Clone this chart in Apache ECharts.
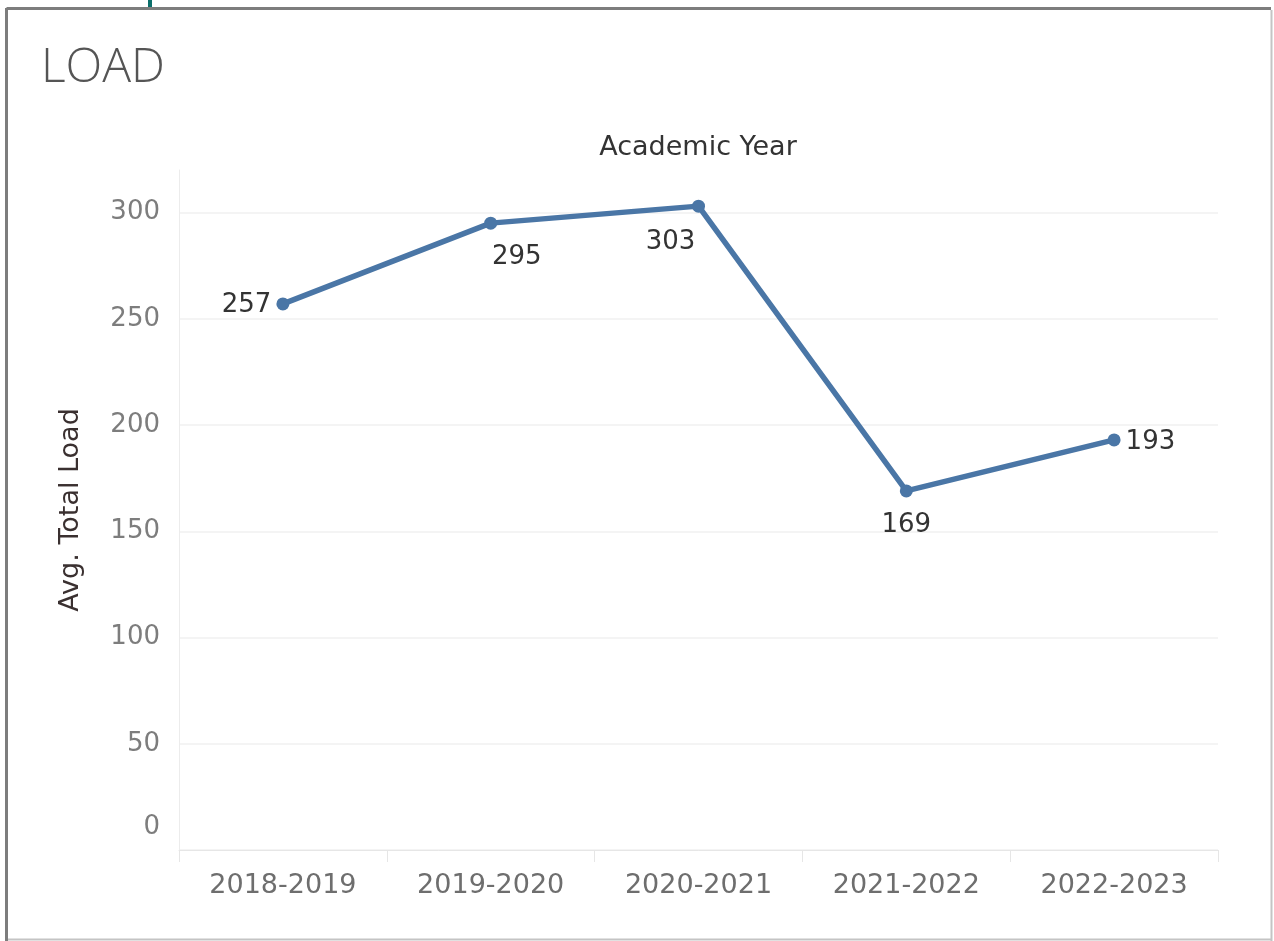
<!DOCTYPE html>
<html>
<head>
<meta charset="utf-8">
<title>LOAD</title>
<script src="https://cdn.jsdelivr.net/npm/echarts@6/dist/echarts.min.js"></script>
<style>
  html, body { margin: 0; padding: 0; background: #fff; }
  #chart { width: 1274px; height: 941px; }
</style>
</head>
<body>
<div id="chart"></div>
<script>
// Academic years along the x axis
const years = ['2018-2019', '2019-2020', '2020-2021', '2021-2022', '2022-2023'];
// Average total load per year
const avgLoad = [257, 295, 303, 169, 193];
// Where each value label sits relative to its point
const labelPlacement = [
  { position: 'left', distance: 4, offset: [-1, 1] },
  { position: 'bottom', distance: 5, offset: [26, 10] },
  { position: 'bottom', distance: 5, offset: [-28, 12] },
  { position: 'bottom', distance: 5, offset: [0, 10] },
  { position: 'right', distance: 5, offset: [0, 2] }
];
// Y axis range and step
const yMin = 0, yMax = 320, yStep = 50;

const FONT = '"DejaVu Sans", Verdana, sans-serif';
const TITLE_FONT = '"Open Sans", "Noto Sans", sans-serif';
const chart = echarts.init(document.getElementById('chart'), null, { renderer: 'canvas' });

const points = avgLoad.map((v, i) => ({
  value: v,
  label: {
    show: true,
    position: labelPlacement[i].position,
    distance: labelPlacement[i].distance,
    offset: labelPlacement[i].offset
  }
}));

// split lines cycle through colours; the last (at yMax) is hidden
const splitColors = [];
for (let v = yMin; v <= yMax; v += yStep) splitColors.push('#f0f0f0');
splitColors.push('rgba(0,0,0,0)');

chart.setOption({
  backgroundColor: '#ffffff',
  animation: false,
  grid: { left: 179, right: 56, top: 170, bottom: 91, containLabel: false },
  graphic: [
    // frame around the worksheet
    { type: 'line', shape: { x1: 6.5, y1: 8.5, x2: 1271, y2: 8.5 }, style: { stroke: '#7d7d7d', lineWidth: 3 }, silent: true },
    { type: 'line', shape: { x1: 6.5, y1: 8, x2: 6.5, y2: 941 }, style: { stroke: '#7d7d7d', lineWidth: 3 }, silent: true },
    { type: 'line', shape: { x1: 1271.5, y1: 10, x2: 1271.5, y2: 941 }, style: { stroke: '#c4c4c4', lineWidth: 2 }, silent: true },
    { type: 'line', shape: { x1: 8, y1: 939.5, x2: 1271, y2: 939.5 }, style: { stroke: '#c4c4c4', lineWidth: 2 }, silent: true },
    { type: 'rect', shape: { x: 148, y: 0, width: 4, height: 7 }, style: { fill: '#0b6e6a' }, silent: true },
    // sheet title
    { type: 'text', left: 41, top: 44, style: { text: 'LOAD', font: '300 48px ' + TITLE_FONT, fill: '#555555' }, silent: true },
    // column header
    { type: 'text', x: 698, y: 148, style: { text: 'Academic Year', font: '27px ' + FONT, fill: '#333333', align: 'center', verticalAlign: 'middle' }, silent: true }
  ],
  xAxis: {
    type: 'category',
    data: years,
    boundaryGap: true,
    axisLine: { show: true, lineStyle: { color: '#e6e6e6', width: 1 } },
    axisTick: { show: true, length: 12, lineStyle: { color: '#e6e6e6' } },
    axisLabel: { color: '#6e6e6e', fontSize: 27, fontFamily: FONT, margin: 22 },
    splitLine: { show: false }
  },
  yAxis: {
    type: 'value',
    min: yMin,
    max: yMax,
    interval: yStep,
    name: 'Avg. Total Load',
    nameLocation: 'middle',
    nameGap: 95,
    nameRotate: 90,
    nameTextStyle: { color: '#3a3030', fontSize: 27, fontFamily: FONT },
    axisLine: { show: true, lineStyle: { color: '#ececec', width: 1 } },
    axisTick: { show: false },
    axisLabel: {
      color: '#7d7d7d',
      fontSize: 26,
      fontFamily: FONT,
      margin: 19,
      formatter: v => (v === yMin ? '{low|' + v + '}' : (v % yStep === 0 ? String(v) : '')),
      rich: { low: { fontSize: 26, fontFamily: FONT, color: '#7d7d7d', padding: [0, 0, 46, 0] } }
    },
    splitLine: { show: true, lineStyle: { color: splitColors, width: 1.5 } }
  },
  series: [{
    type: 'line',
    data: points,
    clip: false,
    symbol: 'circle',
    symbolSize: 13,
    itemStyle: { color: '#4a76a6' },
    lineStyle: { color: '#4a76a6', width: 5.5 },
    label: { color: '#333333', fontSize: 26, fontFamily: FONT },
    z: 3
  }]
});
</script>
</body>
</html>
